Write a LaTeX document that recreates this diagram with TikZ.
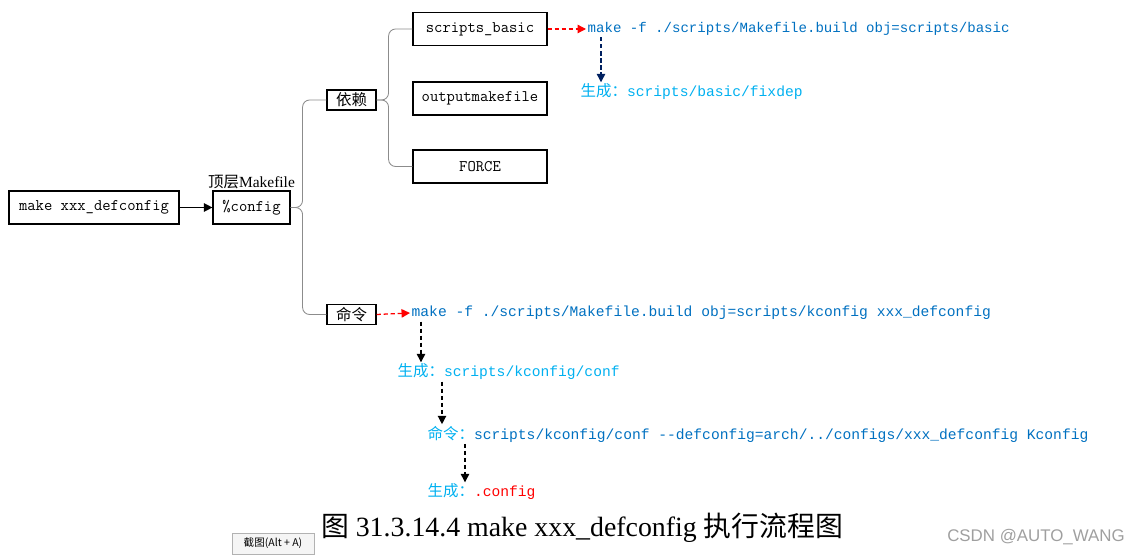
\documentclass[tikz,border=0pt]{standalone}
\usepackage{fontspec}
\setmainfont{Liberation Serif}
\newfontfamily\codefont{Liberation Mono}
\newfontfamily\cjk{Noto Sans CJK SC}
\newfontfamily\wmfont{Liberation Sans}
\usetikzlibrary{calc,arrows.meta}

\definecolor{codeblue}{HTML}{0070C0}
\definecolor{lightblue}{HTML}{00B0F0}
\definecolor{navy}{HTML}{002060}
\definecolor{bracegray}{HTML}{8C8C8C}

\newcommand{\zh}[1]{{\cjk\fontsize{11}{13}\selectfont #1}}

\begin{document}
\begin{tikzpicture}[
  x=0.025cm, y=-0.025cm,
  box/.style={draw, line width=0.8pt, inner sep=0pt, minimum height=0.825cm,
    font=\ttfamily\fontsize{11.5}{13}\selectfont},
  wide/.style={box, minimum width=3.35cm},
  tag/.style={draw, line width=0.8pt, inner sep=0pt, minimum width=1.225cm,
    minimum height=0.5cm, font=\cjk\fontsize{11}{13}\selectfont},
  code/.style={anchor=west, inner sep=1pt, text=codeblue,
    font=\codefont\fontsize{10.4}{12}\selectfont},
  brace/.style={draw=bracegray, line width=0.6pt, rounded corners=5pt},
  redarr/.style={red, line width=0.9pt, dash pattern=on 3pt off 2pt,
    -{Triangle[length=6pt,width=6pt]}},
  downarr/.style={line width=0.9pt, dash pattern=on 3pt off 2pt,
    -{Triangle[length=6pt,width=6pt]}}
]
\useasboundingbox (0,0) rectangle (1141,556);

% left part
\node[box, minimum width=4.25cm] (mkdef) at (94,207.5) {make xxx\_defconfig};
\node[box, minimum width=1.925cm] (pctcfg) at (251.5,207.5) {\%config};
\node[anchor=south, inner sep=1pt, font=\fontsize{11}{13}\selectfont] (toplbl) at (pctcfg.north) {{\cjk 顶层}Makefile};
\draw[line width=0.9pt, -{Triangle[length=6pt,width=6pt]}] (mkdef) -- (pctcfg);

\node[tag] (yilai) at (351.5,100) {依赖};
\node[tag] (mingling) at (351.5,314.5) {命令};

\node[wide] (sbasic) at (480,29) {scripts\_basic};
\node[wide] (outmk) at (480,98.5) {outputmakefile};
\node[wide] (force) at (480,166.5) {FORCE};

% braces
\draw[brace] (yilai.west) -| ($(pctcfg.east)+(12,0)$) -- (pctcfg.east);
\draw[brace] (mingling.west) -| ($(pctcfg.east)+(12,0)$) -- (pctcfg.east);
\draw[brace] (sbasic.west) -| ($(yilai.east)+(12,0)$) -- (yilai.east);
\draw[brace] (force.west) -| ($(yilai.east)+(12,0)$) -- (yilai.east);

% scripts_basic
\node[code, font=\codefont\fontsize{10}{12}\selectfont] (basiccmd) at (586,29) {make -f ./scripts/Makefile.build obj=scripts/basic};
\node[code, text=lightblue] (fixdep) at (579,92) {\zh{生成：}scripts/basic/fixdep};
\draw[redarr] (sbasic.east) -- (basiccmd.west);
\draw[downarr, navy] ($(basiccmd.south west)+(15,0)$) -- ($(fixdep.north west)+(22,0)$);

% kconfig
\node[code] (kcfgcmd) at (410,313) {make -f ./scripts/Makefile.build obj=scripts/kconfig xxx\_defconfig};
\node[code, text=lightblue] (confgen) at (396,372) {\zh{生成：}scripts/kconfig/conf};
\node[code] (confcmd) at (426,434) {\textcolor{lightblue}{\zh{命令：}}scripts/kconfig/conf -{}-defconfig=arch/../configs/xxx\_defconfig Kconfig};
\node[code, text=red] (dotcfg) at (426,492) {\textcolor{lightblue}{\zh{生成：}}.config};
\draw[redarr] (mingling.east) -- (kcfgcmd.west);
\draw[downarr] ($(kcfgcmd.south west)+(11,0)$) -- ($(confgen.north west)+(25,0)$);
\draw[downarr] ($(confgen.south west)+(46,0)$) -- ($(confcmd.north west)+(16,0)$);
\draw[downarr] ($(confcmd.south west)+(39,0)$) -- ($(dotcfg.north west)+(39,0)$);

% caption
\node[font=\fontsize{19.8}{23}\selectfont] (caption) at (582,528) {{\cjk 图} 31.3.14.4 make xxx\_defconfig {\cjk 执行流程图}};
\node[draw=gray!60, fill=gray!8, inner sep=0pt, minimum width=2.05cm, minimum height=0.525cm,
  font=\cjk\fontsize{7.5}{9}\selectfont] (tip) at (273,543.5) {截图(Alt + A)};
\node[text=gray!75, font=\wmfont\fontsize{12}{14}\selectfont] (wm) at (1036,537) {CSDN @AUTO\_WANG};
\end{tikzpicture}
\end{document}
